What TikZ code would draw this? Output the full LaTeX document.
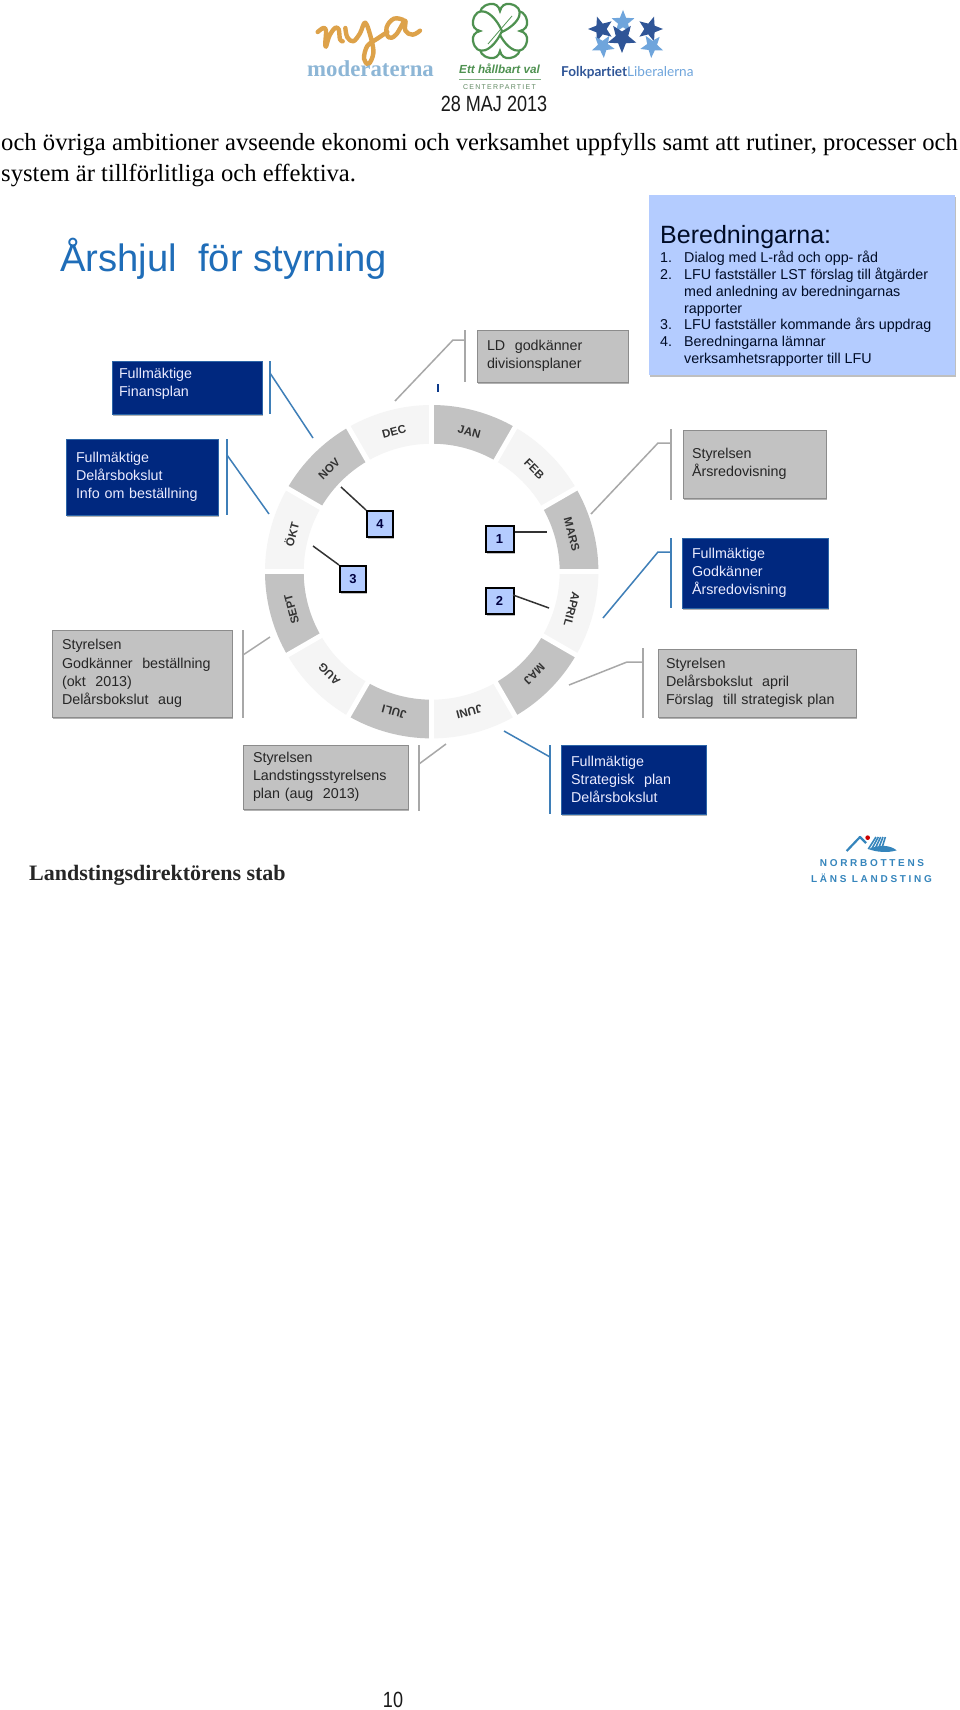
\documentclass[tikz,border=0pt]{standalone}
\usepackage{fontspec}
\setmainfont{Liberation Sans}
\newfontfamily\tmsfont{Liberation Serif}
\newfontfamily\latofont[Ligatures=NoCommon]{Lato}
\usetikzlibrary{shadows,shapes.geometric}
\definecolor{navy}{HTML}{00287F}
\definecolor{boxgray}{HTML}{C2C2C2}
\definecolor{edgegray}{HTML}{8C8C8C}
\definecolor{linegray}{HTML}{A8A8A8}
\definecolor{lineblue}{HTML}{3F7FB8}
\definecolor{paleblue}{HTML}{B4CCFF}
\definecolor{titleblue}{HTML}{1F6DB8}
\definecolor{ringlight}{HTML}{F5F5F5}
\definecolor{nyaorange}{HTML}{DDA24A}
\definecolor{modblue}{HTML}{8DB6D6}
\definecolor{cgreen}{HTML}{4E9150}
\definecolor{fpdark}{HTML}{2F5597}
\definecolor{fplight}{HTML}{6FA5DC}
\definecolor{nllblue}{HTML}{3585BC}
\tikzset{
  x=1pt,y=-1pt,
  boxbase/.style={rectangle,anchor=north west,inner ysep=0pt,outer sep=0pt,align=left,
    font=\fontsize{14.3}{18.2}\selectfont,
    drop shadow={shadow xshift=1pt,shadow yshift=-2pt,fill=black,opacity=.3}},
  navybox/.style={boxbase,fill=navy,draw=lineblue!70!navy,line width=.6pt,text=white!92!blue},
  graybox/.style={boxbase,fill=boxgray,draw=edgegray,line width=1pt,text=black!85},
  numbox/.style={rectangle,anchor=north west,fill=paleblue,draw=black,line width=2pt,inner sep=0pt,
    font=\bfseries\fontsize{13}{13}\selectfont,text=black!75!blue,
    drop shadow={shadow xshift=1pt,shadow yshift=-2pt,fill=black,opacity=.25}},
  bluebar/.style={draw=lineblue,line width=1.8pt},
  graybar/.style={draw=linegray,line width=1.8pt},
  blueconn/.style={draw=lineblue,line width=1.5pt},
  grayconn/.style={draw=linegray,line width=1.5pt},
  numconn/.style={draw=black!80,line width=1.5pt},
  month/.style={font=\bfseries\fontsize{11.5}{12}\selectfont,text=black!80},
}
\begin{document}
\begin{tikzpicture}
\useasboundingbox (0,0) rectangle (960,1710);
\fill[white] (0,0) rectangle (960,1710);

% ---- header logos
\begin{scope}[shift={(290,0)},x=.3333pt,y=-.3333pt]
\draw[nyaorange,line width=4.4pt,line cap=round,line join=round]
  plot[smooth,tension=.6] coordinates {(83,96)(100,84)(108,92)(106,128)(108,140)(118,108)(135,84)(146,88)(150,118)(158,124)};
\draw[nyaorange,line width=4.4pt,line cap=round,line join=round]
  plot[smooth,tension=.6] coordinates {(166,84)(172,112)(190,124)(210,100)(226,68)(244,118)(250,160)(236,192)(222,176)(232,138)(262,116)(292,96)};
\draw[nyaorange,line width=4.4pt,line cap=round,line join=round]
  plot[smooth,tension=.7] coordinates {(340,60)(312,56)(290,82)(296,112)(318,104)(345,62)(346,92)(368,104)(390,92)};
\end{scope}
\node[anchor=base west,inner sep=0pt,text=modblue] (moderaterna) at (307,77)
  {\tmsfont\bfseries\fontsize{22.8}{23}\selectfont moderaterna};
% clover
\begin{scope}[shift={(500,31)}]
\foreach \r in {0,90,180,270}{
\draw[cgreen,line width=2.2pt,fill=white,rotate=\r]
  (0,-2) .. controls (-22,8) and (-26,24) .. (-10,27) .. controls (-5,28) and (-1,25) .. (0,20)
  .. controls (1,25) and (5,28) .. (10,27) .. controls (26,24) and (22,8) .. (0,-2);
}
\end{scope}
\coordinate (cloverstemA) at (488,44);
\coordinate (cloverstemB) at (512,16);
\draw[cgreen,line width=.8pt] (cloverstemA) -- (cloverstemB);
\node[anchor=base west,inner sep=0pt,text=cgreen] (ettval) at (459,74)
  {\bfseries\itshape\fontsize{11.7}{12}\selectfont Ett hållbart val};
\coordinate (cruleA) at (459,79.5);
\coordinate (cruleB) at (541,79.5);
\draw[cgreen!70,line width=.7pt] (cruleA) -- (cruleB);
\node[anchor=center,inner sep=0pt,text=cgreen!60!gray] (centerp) at (499.5,87)
  {\addfontfeature{LetterSpace=18}\fontsize{7}{8}\selectfont CENTERPARTIET};
% stars
\foreach \nm/\px/\py/\rad/\rot/\col in {
  stA/623/22/12/0/fplight, stB/601/29/13/18/fpdark, stC/650/29/13/-18/fpdark,
  stD/603/46/12/40/fplight, stE/652/46/12/-40/fplight, stF/622/38/15/180/fpdark}{
  \node[star,star points=5,star point ratio=2.3,fill=\col,inner sep=0pt,minimum size=2*\rad pt,rotate=\rot] (\nm) at (\px,\py) {};
}
\node[anchor=base west,inner sep=0pt] (folkp) at (561,77)
  {\latofont\fontsize{13.6}{15}\selectfont\textcolor{fpdark}{\bfseries Folkpartiet}\textcolor{fplight}{Liberalerna}};
\node[anchor=base,inner sep=0pt,text=black!90] (datum) at (494,111)
  {\scalebox{.82}[1]{\fontsize{22}{24}\selectfont 28 MAJ 2013}};

% ---- body text
\node[anchor=base west,inner sep=0pt] (lineA) at (1,150)
  {\tmsfont\fontsize{24.65}{26}\selectfont och övriga ambitioner avseende ekonomi och verksamhet uppfylls samt att rutiner, processer och};
\node[anchor=base west,inner sep=0pt] (lineB) at (1,181)
  {\tmsfont\fontsize{24.65}{26}\selectfont system är tillförlitliga och effektiva.};

% ---- title
\node[anchor=base west,inner sep=0pt,text=titleblue] (titel) at (60,271)
  {\fontsize{38.2}{40}\selectfont Årshjul \ för styrning};

% ---- ring
\begin{scope}[shift={(431.7,571.7)}]
\foreach \a/\col in {90/boxgray,60/ringlight,30/boxgray,0/ringlight,-30/boxgray,-60/ringlight,
                     -90/boxgray,-120/ringlight,-150/boxgray,-180/ringlight,-210/boxgray,-240/ringlight}{
  \pgfmathsetmacro{\b}{\a-30}
  \fill[\col] (\a:166.7pt) arc[start angle=\a,end angle=\b,radius=166.7pt]
     -- (\b:128pt) arc[start angle=\b,end angle=\a,radius=128pt] -- cycle;
}
\foreach \a in {0,30,...,150}{
  \draw[white,line width=5pt] (\a:172pt) -- (\a:120pt);
  \draw[white,line width=5pt] (\a+180:172pt) -- (\a+180:120pt);
}
\foreach \nm/\a/\t in {mJan/75/JAN,mFeb/45/FEB,mMar/15/MARS,mApr/-15/APRIL,mMaj/-45/MAJ,mJun/-75/JUNI,
                  mJul/-105/JULI,mAug/-135/AUG,mSep/-165/SEPT,mOkt/165/ÖKT,mNov/135/NOV,mDec/105/DEC}{
  \pgfmathsetmacro{\rr}{\a-90}
  \node[month,rotate=\rr] (\nm) at (\a:145pt) {\t};
}
\end{scope}

% ---- boxes
\node[navybox,minimum width=150pt,minimum height=53pt,inner xsep=7pt,text width=136pt] (finans) at (112,361)
  {Fullmäktige\\Finansplan\\[-8pt]\mbox{}};
\node[navybox,minimum width=152pt,minimum height=76pt,inner xsep=10pt,text width=132pt] (delars) at (66,439)
  {Fullmäktige\\Delårsbokslut\\Info om beställning};
\node[graybox,minimum width=151pt,minimum height=52pt,inner xsep=10pt,text width=131pt] (ldbox) at (477,330)
  {LD \ godkänner\\divisionsplaner};
\node[rectangle,anchor=north west,fill=paleblue,minimum width=306pt,minimum height=180pt,inner sep=0pt,
  drop shadow={shadow xshift=1pt,shadow yshift=-2pt,fill=black,opacity=.25}] (bered) at (649,195) {};
\node[anchor=base west,inner sep=0pt,text=black!70!navy] (beredh) at (660,243)
  {\fontsize{25}{26}\selectfont Beredningarna:};
\node[anchor=north west,inner sep=0pt,align=left,text=black!70!navy,font=\fontsize{14.3}{16.8}\selectfont] (beredl) at (660,251)
  {\makebox[24pt][l]{1.}Dialog med L-råd och opp- råd\\
   \makebox[24pt][l]{2.}LFU fastställer LST förslag till åtgärder\\
   \makebox[24pt][l]{}med anledning av beredningarnas\\
   \makebox[24pt][l]{}rapporter\\
   \makebox[24pt][l]{3.}LFU fastställer kommande års uppdrag\\
   \makebox[24pt][l]{4.}Beredningarna lämnar\\
   \makebox[24pt][l]{}verksamhetsrapporter till LFU};
\node[graybox,minimum width=143pt,minimum height=68pt,inner xsep=9pt,text width=125pt] (arsred) at (683,430)
  {Styrelsen\\Årsredovisning};
\node[navybox,minimum width=146pt,minimum height=70pt,inner xsep=10pt,text width=126pt] (godk) at (682,538)
  {Fullmäktige\\Godkänner\\Årsredovisning};
\node[graybox,minimum width=198pt,minimum height=68pt,inner xsep=8pt,text width=182pt] (april) at (658,649)
  {Styrelsen\\Delårsbokslut \ april\\Förslag \ till strategisk plan};
\node[navybox,minimum width=145pt,minimum height=69pt,inner xsep=10pt,text width=125pt] (strat) at (561,745)
  {Fullmäktige\\Strategisk \ plan\\Delårsbokslut};
\node[graybox,minimum width=180pt,minimum height=87pt,inner xsep=10pt,text width=160pt] (gbest) at (52,630)
  {Styrelsen\\Godkänner \ beställning\\(okt \ 2013)\\Delårsbokslut \ aug};
\node[graybox,minimum width=165pt,minimum height=64pt,inner xsep=10pt,text width=145pt] (lsplan) at (243,745)
  {Styrelsen\\Landstingsstyrelsens\\plan (aug \ 2013)};

% ---- number boxes
\node[numbox,minimum width=28pt,minimum height=26pt] (n1) at (484.5,525) {1};
\node[numbox,minimum width=28pt,minimum height=26pt] (n2) at (484.5,587) {2};
\node[numbox,minimum width=26pt,minimum height=26pt] (n3) at (339,565) {3};
\node[numbox,minimum width=26pt,minimum height=26pt] (n4) at (366,510) {4};
\coordinate (n1t) at (547,532);
\coordinate (n2t) at (549,608);
\coordinate (n2s) at (513,595);
\coordinate (n3t) at (313,546);
\coordinate (n4t) at (341,487);
\draw[numconn] (n1.east |- n1t) -- (n1t);
\draw[numconn] (n2s) -- (n2t);
\draw[numconn] (n3.north west) -- (n3t);
\draw[numconn] (n4.north west) -- (n4t);

% ---- bars and connectors
\coordinate (bFinA) at (270,361); \coordinate (bFinB) at (270,414);
\coordinate (cFinA) at (270,373); \coordinate (cFinB) at (313,438);
\draw[bluebar] (bFinA) -- (bFinB); \draw[blueconn] (cFinA) -- (cFinB);
\coordinate (bDelA) at (227,439); \coordinate (bDelB) at (227,515);
\coordinate (cDelA) at (227,455); \coordinate (cDelB) at (269,514);
\draw[bluebar] (bDelA) -- (bDelB); \draw[blueconn] (cDelA) -- (cDelB);
\coordinate (bLdA) at (465,330); \coordinate (bLdB) at (465,382);
\coordinate (cLdA) at (465,340); \coordinate (cLdM) at (453,340); \coordinate (cLdB) at (395,401);
\draw[graybar] (bLdA) -- (bLdB); \draw[grayconn] (cLdA) -- (cLdM) -- (cLdB);
\coordinate (tickA) at (438,384); \coordinate (tickB) at (438,392);
\draw[navy!80!lineblue,line width=1.5pt] (tickA) -- (tickB);
\coordinate (bArA) at (671,429); \coordinate (bArB) at (671,500);
\coordinate (cArA) at (671,443); \coordinate (cArM) at (658,443); \coordinate (cArB) at (591,514);
\draw[graybar] (bArA) -- (bArB); \draw[grayconn] (cArA) -- (cArM) -- (cArB);
\coordinate (bGoA) at (671,538); \coordinate (bGoB) at (671,608);
\coordinate (cGoA) at (671,552); \coordinate (cGoM) at (658,552); \coordinate (cGoB) at (603,618);
\draw[bluebar] (bGoA) -- (bGoB); \draw[blueconn] (cGoA) -- (cGoM) -- (cGoB);
\coordinate (bApA) at (643,648); \coordinate (bApB) at (643,718);
\coordinate (cApA) at (643,662); \coordinate (cApM) at (627,662); \coordinate (cApB) at (569,685);
\draw[graybar] (bApA) -- (bApB); \draw[grayconn] (cApA) -- (cApM) -- (cApB);
\coordinate (bStA) at (550,745); \coordinate (bStB) at (550,814);
\coordinate (cStA) at (550,757); \coordinate (cStB) at (504,731);
\draw[bluebar] (bStA) -- (bStB); \draw[blueconn] (cStA) -- (cStB);
\coordinate (bGbA) at (243,630); \coordinate (bGbB) at (243,718);
\coordinate (cGbA) at (243,655); \coordinate (cGbB) at (270,637);
\draw[graybar] (bGbA) -- (bGbB); \draw[grayconn] (cGbA) -- (cGbB);
\coordinate (bLsA) at (419,745); \coordinate (bLsB) at (419,811);
\coordinate (cLsA) at (419,764); \coordinate (cLsB) at (446,744);
\draw[graybar] (bLsA) -- (bLsB); \draw[grayconn] (cLsA) -- (cLsB);

% ---- footer of the slide
\node[anchor=base west,inner sep=0pt,text=black!85] (stab) at (29,880)
  {\tmsfont\bfseries\fontsize{22}{23}\selectfont Landstingsdirektörens stab};
\begin{scope}[shift={(800,825)},x=.3333pt,y=-.3333pt]
\draw[nllblue,line width=2.2pt,line join=round] (140,78) -- (180,36) -- (198,54);
\foreach \k in {0,1,2,3,4}{
  \draw[nllblue,line width=1.6pt] (205+\k*10,72) -- (228+\k*7,36);
}
\fill[nllblue] (205,72) .. controls (240,58) and (270,60) .. (290,76) .. controls (265,84) and (230,82) .. (205,72) -- cycle;
\fill[red!80!black] (203,38) circle[radius=7];
\end{scope}
\node[inner sep=0pt,text=nllblue] (nllA) at (872,863)
  {\addfontfeature{LetterSpace=27}\bfseries\fontsize{10}{10}\selectfont NORRBOTTENS};
\node[inner sep=0pt,text=nllblue] (nllB) at (871.5,878)
  {\addfontfeature{LetterSpace=27}\bfseries\fontsize{10}{10}\selectfont LÄNS LANDSTING};

% ---- page number
\node[anchor=base,inner sep=0pt,text=black!90] (sida) at (393,1707)
  {\scalebox{.82}[1]{\fontsize{22}{24}\selectfont 10}};
\end{tikzpicture}
\end{document}
